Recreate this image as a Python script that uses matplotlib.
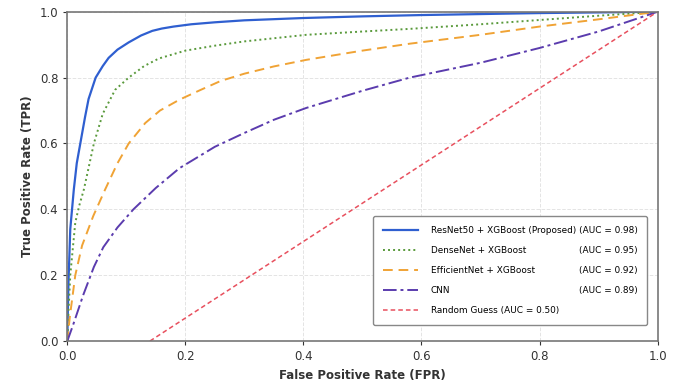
import matplotlib
matplotlib.use("Agg")
import matplotlib.pyplot as plt

# ROC points
resnet_fpr = [0, 0.001, 0.002, 0.005, 0.011, 0.016, 0.022, 0.03, 0.036, 0.048, 0.06, 0.07, 0.085, 0.104, 0.125, 0.144, 0.16, 0.18, 0.21, 0.25, 0.3, 0.4, 0.5, 0.6, 0.8, 1.0]
resnet_tpr = [0, 0.10, 0.18, 0.34, 0.46, 0.54, 0.60, 0.68, 0.735, 0.80, 0.835, 0.86, 0.885, 0.907, 0.928, 0.942, 0.949, 0.955, 0.962, 0.968, 0.974, 0.981, 0.986, 0.99, 0.996, 1.0]

densenet_fpr = [0, 0.002, 0.005, 0.0135, 0.02, 0.028, 0.045, 0.06, 0.081, 0.104, 0.13, 0.155, 0.2, 0.25, 0.3, 0.405, 0.5, 0.58, 0.7, 0.8, 0.9, 1.0]
densenet_tpr = [0, 0.09, 0.2, 0.36, 0.41, 0.46, 0.60, 0.69, 0.763, 0.80, 0.835, 0.858, 0.882, 0.897, 0.91, 0.93, 0.94, 0.948, 0.962, 0.975, 0.988, 1.0]

effnet_fpr = [0, 0.004, 0.0135, 0.025, 0.044, 0.064, 0.085, 0.104, 0.132, 0.157, 0.19, 0.225, 0.26, 0.3, 0.35, 0.405, 0.5, 0.58, 0.7, 0.8, 0.9, 1.0]
effnet_tpr = [0, 0.07, 0.20, 0.29, 0.38, 0.46, 0.54, 0.60, 0.662, 0.70, 0.733, 0.762, 0.79, 0.812, 0.834, 0.854, 0.882, 0.903, 0.93, 0.955, 0.977, 1.0]

cnn_fpr = [0, 0.01, 0.027, 0.045, 0.061, 0.085, 0.112, 0.15, 0.19, 0.25, 0.3, 0.35, 0.405, 0.5, 0.58, 0.7, 0.8, 0.9, 1.0]
cnn_tpr = [0, 0.05, 0.14, 0.225, 0.285, 0.345, 0.40, 0.465, 0.525, 0.59, 0.632, 0.672, 0.708, 0.76, 0.80, 0.845, 0.89, 0.94, 1.0]

random_fpr = [0.14, 1.0]
random_tpr = [0.0, 1.0]

names = ["ResNet50 + XGBoost (Proposed)", "DenseNet + XGBoost", "EfficientNet + XGBoost", "CNN", "Random Guess (AUC = 0.50)"]
aucs = ["(AUC = 0.98)", "(AUC = 0.95)", "(AUC = 0.92)", "(AUC = 0.89)", None]

fig, ax = plt.subplots(figsize=(6.8, 3.92), dpi=100)
fig.subplots_adjust(left=0.099, right=0.967, top=0.97, bottom=0.13)

ax.plot(resnet_fpr, resnet_tpr, color="#2f5fd0", lw=1.6, ls="-", label=names[0])
ax.plot(densenet_fpr, densenet_tpr, color="#5a9a3c", lw=1.4, ls=(0, (1, 1.6)), label=names[1])
ax.plot(effnet_fpr, effnet_tpr, color="#f0a335", lw=1.4, ls=(0, (5, 3)), label=names[2])
ax.plot(cnn_fpr, cnn_tpr, color="#5b3cae", lw=1.4, ls=(0, (7, 2, 1.5, 2)), label=names[3])
ax.plot(random_fpr, random_tpr, color="#e8505e", lw=1.1, ls=(0, (3, 2)), label=names[4])

ax.set_xlim(0, 1)
ax.set_ylim(0, 1)
ax.set_xticks([0, 0.2, 0.4, 0.6, 0.8, 1.0])
ax.set_yticks([0, 0.2, 0.4, 0.6, 0.8, 1.0])
ax.tick_params(labelsize=8.5, colors="#333333", length=3)
ax.grid(True, color="#e4e4e4", lw=0.7, ls="--")
for s in ax.spines.values():
    s.set_color("#777777")
    s.set_linewidth(1.2)

ax.set_xlabel("False Positive Rate (FPR)", fontsize=8.5, fontweight="bold", color="#333333")
ax.set_ylabel("True Positive Rate (TPR)", fontsize=8.5, fontweight="bold", color="#333333")

leg = ax.legend(loc="lower right", bbox_to_anchor=(0.99, 0.035), fontsize=6.4,
                frameon=True, fancybox=True, edgecolor="#888888", framealpha=1,
                borderpad=1.1, labelspacing=1.25, handlelength=4.0, handletextpad=1.4)
# widen the label column so the AUC values can sit right-aligned
leg.get_texts()[0].set_text(names[0] + " (AUC = 0.98)")

fig.canvas.draw()
renderer = fig.canvas.get_renderer()
right_edge = leg.get_texts()[0].get_window_extent(renderer).x1
inv = fig.transFigure.inverted()
for t, a in zip(leg.get_texts()[1:4], aucs[1:4]):
    bb = t.get_window_extent(renderer)
    x, y = inv.transform((right_edge, (bb.y0 + bb.y1) / 2))
    fig.text(x, y, a, fontsize=6.4, ha="right", va="center", color=t.get_color())

plt.savefig("out.png", dpi=100)
plt.close()
